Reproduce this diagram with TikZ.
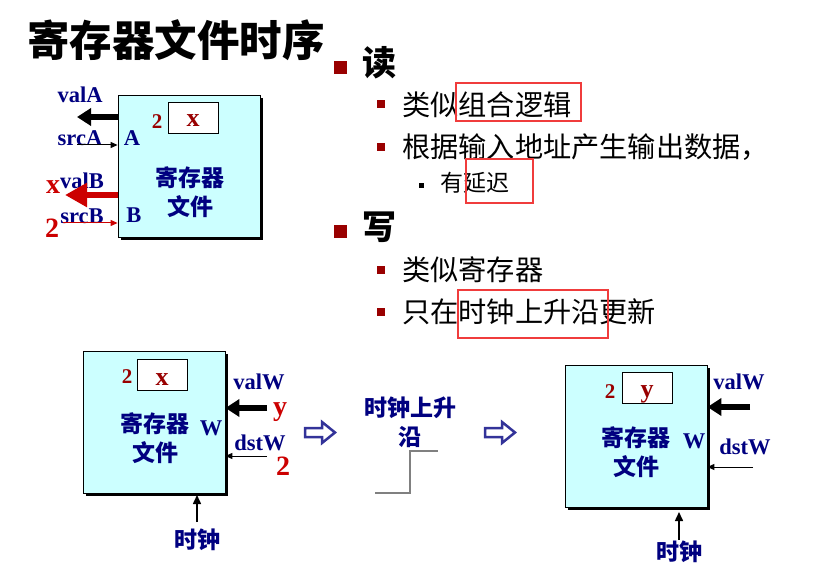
\documentclass[tikz,border=0pt]{standalone}
\usepackage{fontspec}
\setmainfont{Liberation Serif}
\newfontfamily\cjk{Noto Sans CJK SC}
\usetikzlibrary{arrows.meta,shadows}
\definecolor{navy}{HTML}{000080}
\definecolor{dred}{HTML}{990000}
\definecolor{rred}{HTML}{CC0000}
\definecolor{cyanfill}{HTML}{CCFFFF}
\definecolor{boxred}{HTML}{F03C3C}
\definecolor{hblue}{HTML}{333399}
\begin{document}
\begin{tikzpicture}[x=1pt,y=-1pt,
  regbox/.style={draw=black, line width=0.8pt, fill=cyanfill, minimum width=142pt, minimum height=142pt, inner sep=0pt, general shadow={fill=black, shadow xshift=3pt, shadow yshift=-3pt}},
  valbox/.style={draw=black, line width=1pt, fill=white, minimum width=50pt, minimum height=31pt, inner sep=0pt},
  vtxt/.style={anchor=base, inner sep=0pt, text=dred, font=\bfseries\fontsize{26}{26}\selectfont},
  lab/.style={text=navy, font=\bfseries\fontsize{22.5}{22.5}\selectfont, inner sep=0pt},
  cjklab/.style={text=navy, font=\cjk\bfseries\fontsize{23}{29}\selectfont, inner sep=0pt, align=center},
  num/.style={text=dred, font=\bfseries\fontsize{21}{21}\selectfont, inner sep=0pt},
  redlab/.style={text=rred, font=\bfseries\fontsize{28}{28}\selectfont, inner sep=0pt},
  fatarr/.style={line width=5.5pt, -{Triangle[length=14pt,width=17pt]}},
  thinarr/.style={line width=1pt, -{Triangle[length=7pt,width=6pt]}},
  clkarr/.style={line width=1.5pt, -{Triangle[length=9pt,width=8pt]}},
  head/.style={anchor=west, inner sep=0pt, font=\cjk\bfseries\fontsize{34}{34}\selectfont},
  bul/.style={anchor=west, inner sep=0pt, font=\cjk\fontsize{28.2}{28.2}\selectfont},
  subbul/.style={anchor=west, inner sep=0pt, font=\cjk\fontsize{23}{23}\selectfont},
  sq/.style={fill=dred},
  redbox/.style={draw=boxred, line width=2pt},
  hollow/.style={draw=hblue, line width=2.5pt, fill=white, line join=miter},
]
\useasboundingbox (0,0) rectangle (827,572);

% title
\node[anchor=west, inner sep=0pt, font=\cjk\bfseries\fontsize{42.5}{42.5}\selectfont] (title) at (27,40) {寄存器文件时序};

% bullets
\fill[sq] (334,61) rectangle (347,74);
\node[head] (h1) at (362,63) {读};
\fill[sq] (377,100) rectangle (385,108);
\node[bul] (b1) at (402,105) {类似组合逻辑};
\fill[sq] (377,143) rectangle (385,151);
\node[bul] (b2) at (402,147) {根据输入地址产生输出数据，};
\fill[black] (419,183) rectangle (424,188);
\node[subbul] (b3) at (440,183) {有延迟};
\fill[sq] (334,225) rectangle (347,238);
\node[head] (h2) at (362,227) {写};
\fill[sq] (377,266) rectangle (385,274);
\node[bul] (b4) at (402,270) {类似寄存器};
\fill[sq] (377,308) rectangle (385,316);
\node[bul] (b5) at (402,312) {只在时钟上升沿更新};
\draw[redbox] (456,83) rectangle (581,121);
\draw[redbox] (466,159) rectangle (533,203);
\draw[redbox] (458,290) rectangle (608,338);

% register 1 (read)
\node[regbox] (r1) at (189,166) {};
\node[valbox] (v1) at (193,118) {};
\node[vtxt] (v1t) at (193,127) {x};
\node[num] (n1) at (157,122) {2};
\node[lab] (pa) at (132,138) {A};
\node[lab] (pb) at (134,215) {B};
\node[cjklab] (c1) at (190,192) {寄存器\\文件};
\node[lab] (valA) at (80,95) {valA};
\node[lab] (srcA) at (80,138) {srcA};
\node[lab] (valB) at (82,181) {valB};
\node[lab] (srcB) at (82,216) {srcB};
\node[redlab] (xo) at (53,187) {x};
\node[redlab] (two1) at (52,228) {2};
\coordinate (eA) at (77,117);
\coordinate (sA) at (77,145);
\coordinate (eB) at (65,195);
\coordinate (sB) at (63,223);
\draw[fatarr] (r1.west |- eA) -- (eA);
\draw[thinarr] (sA) -- (r1.west |- sA);
\draw[rred, line width=6.5pt, -{Triangle[length=22pt,width=23pt]}] (r1.west |- eB) -- (eB);
\draw[rred, thinarr] (sB) -- (r1.west |- sB);

% register 2 (before write)
\node[regbox] (r2) at (154,422) {};
\node[valbox] (v2) at (162,375) {};
\node[vtxt] (v2t) at (162,385) {x};
\node[num] (n2) at (127,377) {2};
\node[lab] (w2) at (211,428) {W};
\node[cjklab] (c2) at (155,438) {寄存器\\文件};
\node[lab] (valW2) at (259,382) {valW};
\node[lab] (dstW2) at (260,443) {dstW};
\node[redlab, anchor=base] (y2) at (280,415) {y};
\node[redlab] (two2) at (283,466) {2};
\coordinate (vW2) at (267,408);
\coordinate (dW2) at (267,456);
\draw[fatarr] (vW2) -- (r2.east |- vW2);
\draw[thinarr] (dW2) -- (r2.east |- dW2);
\node[cjklab] (clk2) at (197,540) {时钟};
\draw[clkarr] (clk2.north |- 0,522) -- (clk2.north |- 0,495);

% middle
\draw[hollow] (305,428) -- (322,428) -- (322,422) -- (335,432.5) -- (322,443) -- (322,437) -- (305,437) -- cycle;
\node[cjklab] (edge) at (410,422) {时钟上升\\沿};
\draw[gray, line width=1.5pt] (375,493) -- (410,493) -- (410,451) -- (438,451);
\draw[hollow] (485,428) -- (502,428) -- (502,422) -- (515,432.5) -- (502,443) -- (502,437) -- (485,437) -- cycle;

% register 3 (after write)
\node[regbox] (r3) at (636,436) {};
\node[valbox] (v3) at (647,388) {};
\node[vtxt] (v3t) at (647,397) {y};
\node[num] (n3) at (610,392) {2};
\node[lab] (w3) at (694,441) {W};
\node[cjklab] (c3) at (636,452) {寄存器\\文件};
\node[lab] (valW3) at (739,382) {valW};
\node[lab] (dstW3) at (745,447) {dstW};
\coordinate (vW3) at (750,407);
\coordinate (dW3) at (753,467);
\draw[fatarr] (vW3) -- (r3.east |- vW3);
\draw[thinarr] (dW3) -- (r3.east |- dW3);
\node[cjklab] (clk3) at (679,552) {时钟};
\draw[clkarr] (clk3.north |- 0,540) -- (clk3.north |- 0,512);
\end{tikzpicture}
\end{document}
